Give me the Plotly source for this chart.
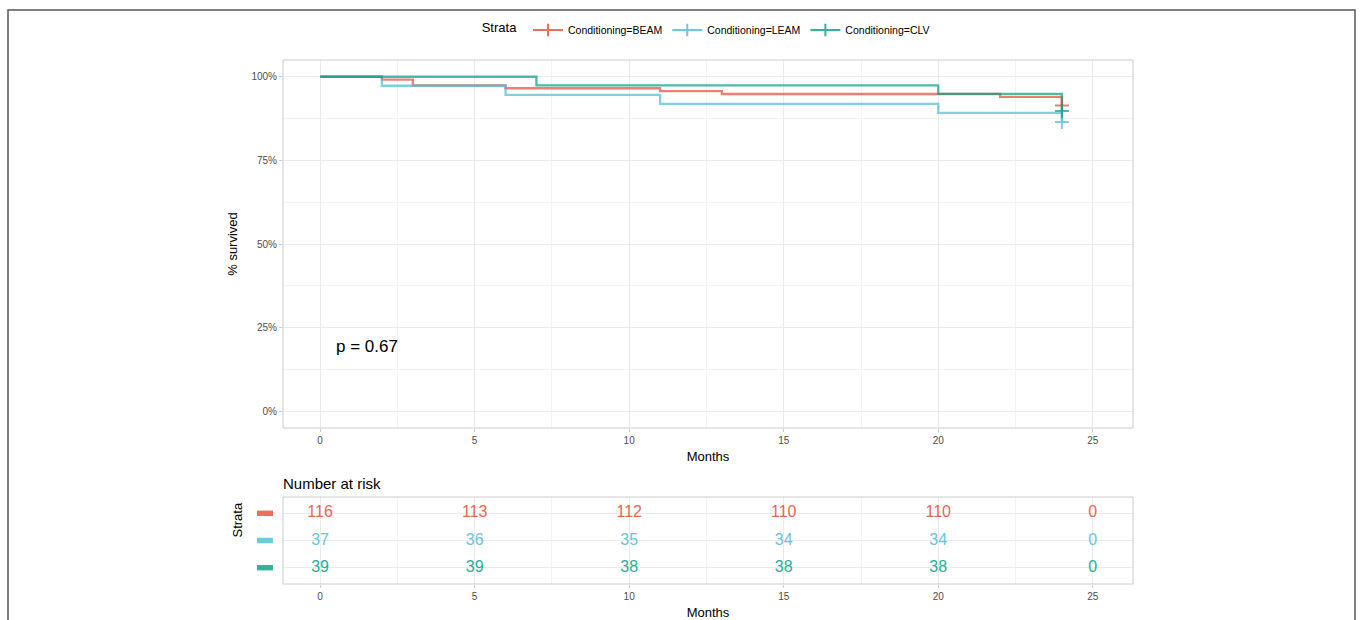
import plotly.graph_objects as go

# ---- data ----
strata = ["Conditioning=BEAM", "Conditioning=LEAM", "Conditioning=CLV"]
beam_t = [0, 2, 3, 6, 11, 13, 22, 24]
beam_s = [100, 99.14, 97.41, 96.55, 95.69, 94.83, 93.97, 91.38]
leam_t = [0, 2, 6, 11, 20, 24]
leam_s = [100, 97.30, 94.59, 91.89, 89.19, 86.49]
clv_t = [0, 7, 20, 24]
clv_s = [100, 97.44, 94.87, 89.74]
censor_t = [24, 24, 24]
censor_s = [91.38, 86.49, 89.74]
y_ticks = [0, 25, 50, 75, 100]
y_ticklabels = ["0%", "25%", "50%", "75%", "100%"]
x_ticks = [0, 5, 10, 15, 20, 25]
risk_times = [0, 5, 10, 15, 20, 25]
risk_beam = [116, 113, 112, 110, 110, 0]
risk_leam = [37, 36, 35, 34, 34, 0]
risk_clv = [39, 39, 38, 38, 38, 0]
p_text = "p = 0.67"

colors = ["#E64B35", "#4DBBD5", "#00A087"]
FONT = "Liberation Sans"

W, H = 1360, 620
def px_x(p): return p / W
def px_y(p): return 1 - p / H

fig = go.Figure()

curves = [(beam_t, beam_s), (leam_t, leam_s), (clv_t, clv_s)]
for i, (t, s) in enumerate(curves):
    fig.add_trace(go.Scatter(x=t, y=s, mode="lines", line=dict(color=colors[i], width=2.3, shape="hv"),
                             opacity=0.7, showlegend=False, xaxis="x", yaxis="y", hoverinfo="skip"))
for i in range(3):
    fig.add_trace(go.Scatter(x=[censor_t[i]], y=[censor_s[i]], mode="markers",
                             marker=dict(symbol="cross-thin", size=10, line=dict(color=colors[i], width=2)),
                             opacity=0.7, showlegend=False, xaxis="x", yaxis="y"))
# legend entries
for i in range(3):
    fig.add_trace(go.Scatter(x=[None], y=[None], mode="lines+markers", name=strata[i],
                             line=dict(color=colors[i], width=2),
                             marker=dict(symbol="cross-thin", size=9, line=dict(color=colors[i], width=2)),
                             opacity=0.8, xaxis="x", yaxis="y"))

# risk table
rows = [3, 2, 1]
for i, vals in enumerate([risk_beam, risk_leam, risk_clv]):
    fig.add_trace(go.Scatter(x=risk_times, y=[rows[i]] * len(risk_times), mode="text",
                             text=[str(v) for v in vals], textposition="middle center",
                             textfont=dict(family=FONT, size=16, color=colors[i]),
                             opacity=0.85, showlegend=False, xaxis="x2", yaxis="y2"))

xdom = [px_x(283), px_x(1133)]
gridc = "#EBEBEB"
axis_common = dict(showline=False, zeroline=False, ticks="outside", ticklen=3, tickcolor="#CCCCCC",
                   tickfont=dict(family=FONT, size=10, color="#4D4D4D"), gridcolor=gridc, gridwidth=1)

fig.update_layout(
    width=W, height=H, margin=dict(l=0, r=0, t=0, b=0),
    paper_bgcolor="white", plot_bgcolor="white",
    font=dict(family=FONT),
    xaxis=dict(domain=xdom, anchor="y", range=[-1.2, 26.3], tickvals=x_ticks,
               minor=dict(dtick=2.5, tick0=0, showgrid=True, gridcolor="#F3F3F3", ticks=""),
               title=dict(text="Months", font=dict(family=FONT, size=13, color="black"), standoff=6),
               **axis_common),
    yaxis=dict(domain=[px_y(428), px_y(60)], anchor="x", range=[-5, 105], tickvals=y_ticks,
               ticktext=y_ticklabels,
               minor=dict(dtick=12.5, tick0=0, showgrid=True, gridcolor="#F3F3F3", ticks=""),
               title=dict(text="% survived", font=dict(family=FONT, size=13, color="black"), standoff=10),
               **axis_common),
    xaxis2=dict(domain=xdom, anchor="y2", range=[-1.2, 26.3], tickvals=x_ticks,
                minor=dict(dtick=2.5, tick0=0, showgrid=True, gridcolor="#F3F3F3", ticks=""),
                title=dict(text="Months", font=dict(family=FONT, size=13, color="black"), standoff=6),
                **axis_common),
    yaxis2=dict(domain=[px_y(584), px_y(497)], anchor="x2", range=[0.4, 3.6], tickvals=rows,
                showticklabels=False, showline=False, zeroline=False, ticks="", gridcolor=gridc),
    legend=dict(orientation="h", x=0.52, xanchor="center", y=px_y(30), yanchor="middle",
                title=dict(text="Strata ", font=dict(family=FONT, size=13, color="black")),
                font=dict(family=FONT, size=10.5, color="black"), itemwidth=30, bgcolor="rgba(0,0,0,0)"),
)

shapes = []
# panel borders
for (y0, y1) in [(px_y(428), px_y(60)), (px_y(584), px_y(497))]:
    shapes.append(dict(type="rect", xref="paper", yref="paper", x0=xdom[0], x1=xdom[1], y0=y0, y1=y1,
                       line=dict(color="#CCCCCC", width=1), layer="above"))
# outer frame
shapes.append(dict(type="rect", xref="paper", yref="paper", x0=px_x(8), x1=px_x(1355), y0=-0.2, y1=px_y(10),
                   line=dict(color="#555555", width=1.5)))
# risk table colour keys
for i in range(3):
    shapes.append(dict(type="rect", xref="paper", yref="y2", x0=px_x(257), x1=px_x(273),
                       y0=rows[i] - 0.1, y1=rows[i] + 0.1, fillcolor=colors[i], opacity=0.8,
                       line=dict(width=0)))
fig.update_layout(shapes=shapes)

fig.add_annotation(x=0.45, y=19.3, xref="x", yref="y", text=p_text, showarrow=False, xanchor="left",
                   font=dict(family=FONT, size=17, color="black"))
fig.add_annotation(x=px_x(281), y=px_y(483), xref="paper", yref="paper", text="Number at risk",
                   showarrow=False, xanchor="left", yanchor="middle", font=dict(family=FONT, size=15, color="black"))
fig.add_annotation(x=px_x(237), y=px_y(540), xref="paper", yref="paper", text="Strata", textangle=-90,
                   showarrow=False, xanchor="center", font=dict(family=FONT, size=13, color="black"))

fig.write_html("out.html", config={"displayModeBar": False},
               post_script="document.body.style.margin='0';document.body.style.overflow='hidden';")
